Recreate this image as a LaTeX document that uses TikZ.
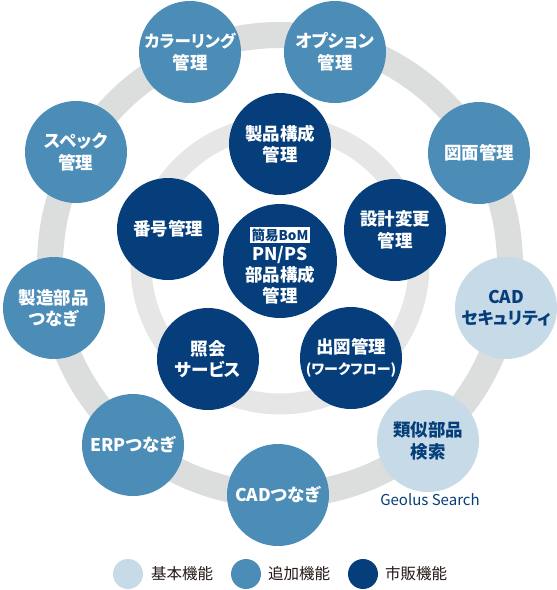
\documentclass[tikz,border=0pt]{standalone}
\usepackage{fontspec}
\setmainfont{Noto Sans CJK JP}[RawFeature=+palt]
\definecolor{cLight}{HTML}{C6DAE7}
\definecolor{cMid}{HTML}{4B8DB6}
\definecolor{cDark}{HTML}{053E7B}
\definecolor{cRingA}{HTML}{DCDDDD}
\definecolor{cRingB}{HTML}{E6E6E6}
\definecolor{cLegText}{HTML}{231815}
\tikzset{
  x=1pt, y=-1pt,
  bub/.style={circle, inner sep=0pt, minimum size=102pt, align=center,
    font=\bfseries\fontsize{17.5}{21.5}\selectfont},
  basic/.style={bub, fill=cLight, text=cDark},
  added/.style={bub, fill=cMid, text=white},
  market/.style={bub, fill=cDark, text=white},
  legdot/.style={circle, inner sep=0pt, minimum size=30pt},
  legtxt/.style={anchor=west, inner sep=0pt, text=cLegText, font=\fontsize{15.5}{18}\selectfont},
}
\begin{document}
\begin{tikzpicture}
\useasboundingbox (0,0) rectangle (557,590);
% rings
\draw[cRingA, line width=26pt] (280,265) circle[radius=230];
\draw[cRingB, line width=21pt] (280,265) circle[radius=139];
% outer ring nodes
\node[added] (color) at (190,52) {{\fontsize{16.5}{21.5}\selectfont カラーリング}\\管理};
\node[added] (option) at (335,52) {オプション\\管理};
\node[added] (zumen) at (479,153) {図面管理};
\node[basic] (cadsec) at (506,308) {CAD\\{\fontsize{17}{21.5}\selectfont セキュリティ}};
\node[basic] (ruiji) at (428,441) {類似部品\\検索};
\node[added] (cadtsu) at (278,495) {CADつなぎ};
\node[added] (erp) at (133,445) {ERPつなぎ};
\node[added] (seizo) at (54,308) {製造部品\\つなぎ};
\node[added] (spec) at (76,152) {スペック\\管理};
\node[anchor=north, inner sep=0pt, text=cDark, font=\fontsize{15}{17}\selectfont] (geolus) at (430,493) {Geolus Search};
% inner ring nodes
\node[market] (seihin) at (280,144) {製品構成\\管理};
\node[market] (sekkei) at (395,230) {設計変更\\管理};
\node[market] (shutsuzu) at (351,358) {出図管理\\{\fontsize{14}{17}\selectfont (ワークフロー)}};
\node[market] (shokai) at (208,359) {照会\\サービス};
\node[market] (bango) at (168,229) {番号管理};
% center
\node[market, minimum size=114pt] (center) at (280,261) {};
\node[fill=white, text=cDark, inner sep=1.5pt, font=\bfseries\fontsize{13.5}{15}\selectfont] (bom) at (280,235) {簡易BoM};
\node[text=white, align=center, inner sep=0pt, font=\bfseries\fontsize{17.5}{21}\selectfont, anchor=north] (pnps) at (280,246) {PN/PS\\部品構成\\管理};
% legend
\node[legdot, fill=cLight] (l1) at (128,574) {};
\node[legtxt] (t1) at (151,574) {基本機能};
\node[legdot, fill=cMid] (l2) at (246,574) {};
\node[legtxt] (t2) at (268,574) {追加機能};
\node[legdot, fill=cDark] (l3) at (363,574) {};
\node[legtxt] (t3) at (385,574) {市販機能};
\end{tikzpicture}
\end{document}
